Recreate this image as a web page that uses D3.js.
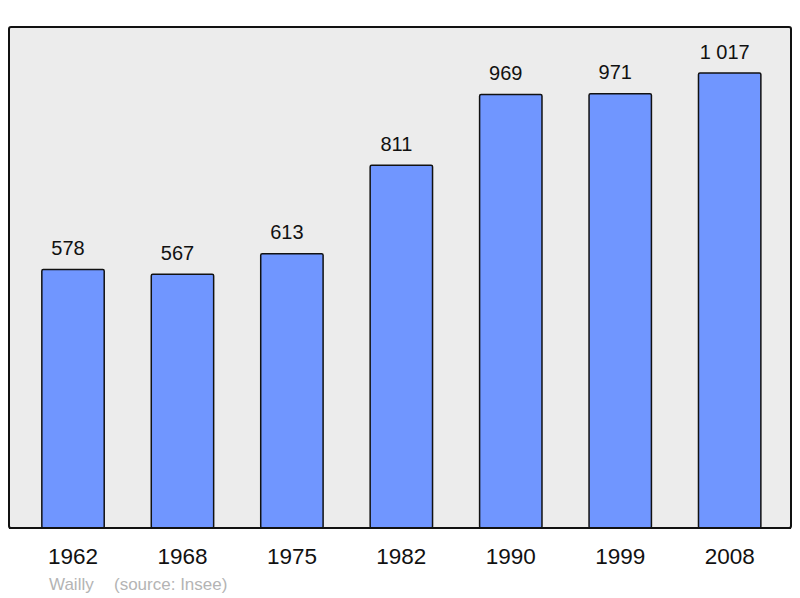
<!DOCTYPE html>
<html>
<head>
<meta charset="utf-8">
<script src="https://cdn.jsdelivr.net/npm/d3@7"></script>
<style>
  body { margin: 0; background: #fff; }
  text { font-family: "Liberation Sans", Arial, sans-serif; }
</style>
</head>
<body>
<div id="chart"></div>
<script>
// Population data
let years = ["1962", "1968", "1975", "1982", "1990", "1999", "2008"];
let population = [578, 567, 613, 811, 969, 971, 1017];
let valueLabels = ["578", "567", "613", "811", "969", "971", "1 017"];

let width = 800, height = 598;

let svg = d3.select("#chart").append("svg")
    .attr("width", width)
    .attr("height", height);

// Plot frame
let frame = {left: 9, top: 27, right: 791, bottom: 528};

svg.append("rect")
    .attr("x", frame.left)
    .attr("y", frame.top)
    .attr("width", frame.right - frame.left)
    .attr("height", frame.bottom - frame.top)
    .attr("rx", 2)
    .attr("fill", "#ececec")
    .attr("stroke", "#111")
    .attr("stroke-width", 2);

// Scales
let x = d3.scaleBand()
    .domain(years)
    .range([18.3, 784.4])
    .paddingInner(0.43)
    .paddingOuter(0.215);

let y = d3.scaleLinear()
    .domain([0, 1120])
    .range([frame.bottom, frame.top]);

// Bars
svg.selectAll("rect.bar")
    .data(years)
    .enter().append("rect")
    .attr("class", "bar")
    .attr("x", d => x(d))
    .attr("y", (d, i) => y(population[i]))
    .attr("width", x.bandwidth())
    .attr("height", (d, i) => frame.bottom - y(population[i]))
    .attr("rx", 1.5)
    .attr("fill", "#7096ff")
    .attr("stroke", "#111")
    .attr("stroke-width", 1.5);

// Redraw the bottom frame line over bars
svg.append("line")
    .attr("x1", frame.left)
    .attr("x2", frame.right)
    .attr("y1", frame.bottom)
    .attr("y2", frame.bottom)
    .attr("stroke", "#111")
    .attr("stroke-width", 2);

// Value labels (sit a little left of bar centre, as in the original)
svg.selectAll("text.value")
    .data(years)
    .enter().append("text")
    .attr("class", "value")
    .attr("x", d => x(d) + x.bandwidth() / 2 - 5)
    .attr("y", (d, i) => y(population[i]) - 14.5)
    .attr("text-anchor", "middle")
    .attr("font-size", 20)
    .attr("fill", "#111")
    .text((d, i) => valueLabels[i]);

// Year axis labels
let xAxis = d3.axisBottom(x).tickSize(0).tickPadding(0);
let axisG = svg.append("g")
    .attr("transform", "translate(0," + frame.bottom + ")")
    .call(xAxis);
axisG.select(".domain").remove();
axisG.selectAll("text")
    .attr("dy", null)
    .attr("y", 36)
    .attr("font-size", 22.5)
    .attr("font-family", "Liberation Sans, Arial, sans-serif")
    .attr("fill", "#111");

// Source note
svg.append("text")
    .attr("x", 49)
    .attr("y", 590)
    .attr("font-size", 17)
    .attr("fill", "#b4b4b4")
    .text("Wailly");
svg.append("text")
    .attr("x", 114)
    .attr("y", 590)
    .attr("font-size", 17)
    .attr("fill", "#b4b4b4")
    .text("(source: Insee)");
</script>
</body>
</html>
